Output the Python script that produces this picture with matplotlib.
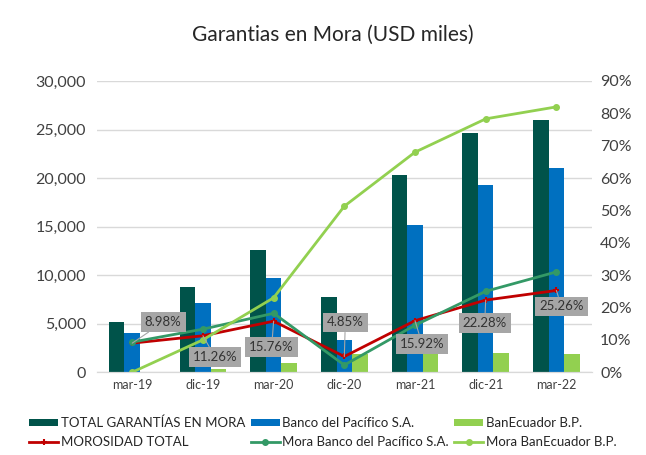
import matplotlib.pyplot as plt
import numpy as np

plt.rcParams['font.family'] = ['Lato', 'DejaVu Sans']

# Data
periods = ['mar-19', 'dic-19', 'mar-20', 'dic-20', 'mar-21', 'dic-21', 'mar-22']
total_mora = [5150, 8760, 12600, 7730, 20300, 24640, 26000]
pacifico = [4020, 7110, 9690, 3300, 15150, 19280, 21030]
banecuador = [0, 300, 930, 1900, 2270, 1960, 1860]
morosidad_total = [8.98, 11.26, 15.76, 4.85, 15.92, 22.28, 25.26]
mora_pacifico = [9.3, 13.3, 18.2, 2.2, 14.5, 25.0, 31.0]
mora_banecuador = [0.0, 10.0, 23.0, 51.3, 68.0, 78.3, 82.0]

# label offsets in pixels (dx, dy), screen up positive
label_offsets = [(31, 21), (12, -21), (-2, -26), (1, 34), (7, -23), (-1, -23), (5, -16)]

c_total = '#00534A'
c_blue = '#0070C0'
c_lgreen = '#92D050'
c_red = '#C00000'
c_dgreen = '#339966'

fig = plt.figure(figsize=(6.46, 4.55), dpi=100)
ax = fig.add_axes([0.150, 0.182, 0.766, 0.640])
ax2 = ax.twinx()

x = np.arange(len(periods))
w = 0.22
ax.bar(x - w, total_mora, w, color=c_total, label='TOTAL GARANTÍAS EN MORA', zorder=2)
ax.bar(x, pacifico, w, color=c_blue, label='Banco del Pacífico S.A.', zorder=2)
ax.bar(x + w, banecuador, w, color=c_lgreen, label='BanEcuador B.P.', zorder=2)

l1, = ax2.plot(x, morosidad_total, color=c_red, lw=2, marker='+', ms=4, mew=1.5,
               label='MOROSIDAD TOTAL')
l2, = ax2.plot(x, mora_pacifico, color=c_dgreen, lw=2, marker='o', ms=4,
               label='Mora Banco del Pacífico S.A.')
l3, = ax2.plot(x, mora_banecuador, color=c_lgreen, lw=2, marker='o', ms=4,
               label='Mora BanEcuador B.P.')

for i, v in enumerate(morosidad_total):
    dx, dy = label_offsets[i]
    ax2.annotate(f'{v:.2f}%', xy=(i, v), xytext=(dx, dy), textcoords='offset pixels',
                 ha='center', va='center', fontsize=9.5, color='#333333',
                 bbox=dict(boxstyle='square,pad=0.3', fc='#A6A6A6', ec='none'),
                 arrowprops=dict(arrowstyle='-', color='#A6A6A6', lw=0.8,
                                 shrinkA=0, shrinkB=0), zorder=5)

ax.set_xlim(-0.5, len(periods) - 0.5)
ax.set_ylim(0, 30000)
ax.set_yticks(range(0, 30001, 5000))
ax.set_yticklabels([f'{v:,}' for v in range(0, 30001, 5000)], fontsize=11.5, color='#404040')
ax2.set_ylim(0, 90)
ax2.set_yticks(range(0, 91, 10))
ax2.set_yticklabels([f'{v}%' for v in range(0, 91, 10)], fontsize=11.5, color='#404040')
ax.set_xticks(x)
ax.set_xticklabels(periods, fontsize=9, color='#404040')

ax.grid(axis='y', color='#D9D9D9', lw=1, zorder=0)
for a in (ax, ax2):
    for s in ('top', 'left', 'right'):
        a.spines[s].set_visible(False)
    a.spines['bottom'].set_color('#D9D9D9')
    a.tick_params(length=0)
ax.tick_params(axis='y', pad=8)
ax2.tick_params(axis='y', pad=6)
ax.tick_params(axis='x', pad=5)

fig.text(0.515, 0.923, 'Garantias en Mora (USD miles)', ha='center', va='center',
         fontsize=15, color='#262626')

h_bars, _ = ax.get_legend_handles_labels()
handles = [h_bars[0], l1, h_bars[1], l2, h_bars[2], l3]
labels = [h.get_label() for h in handles]
fig.legend(handles, labels, loc='center', bbox_to_anchor=(0.5, 0.05), ncol=3,
           frameon=False, fontsize=9.5, handlelength=2.2, handleheight=0.4,
           handletextpad=0.2, columnspacing=0.4, labelspacing=0.5, labelcolor='#262626')

plt.savefig('out.png', dpi=100)
